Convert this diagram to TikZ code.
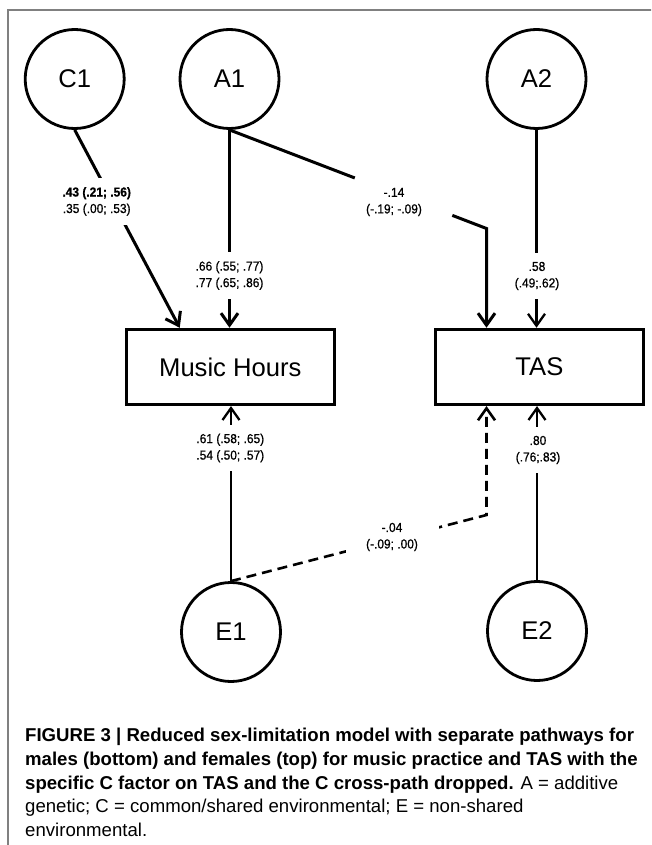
\documentclass[tikz,border=0pt]{standalone}
\usepackage{fontspec}
\setmainfont{Liberation Sans}
\newfontfamily\labfont[FakeStretch=0.92,FakeBold=0.8]{Liberation Sans}
\usetikzlibrary{arrows.meta,calc}
\begin{document}
\begin{tikzpicture}[x=1pt,y=-1pt,
  latent/.style={circle, draw, line width=2.8pt, minimum size=99pt, inner sep=0pt, font=\fontsize{25.6}{30}\selectfont},
  obs/.style={rectangle, draw, line width=3pt, minimum width=208.6pt, minimum height=75.3pt, inner sep=0pt, font=\fontsize{25.6}{30}\selectfont},
  lab/.style={fill=white, align=center, inner xsep=3pt, inner ysep=9pt, font=\labfont\fontsize{13}{16.5}\selectfont},
  thickpath/.style={line width=3pt},
  thinpath/.style={line width=2.3pt},
  dashpath/.style={line width=2.6pt, dash pattern=on 10pt off 6pt},
  arr/.style={-{Straight Barb[length=12pt,width=17pt]}},
  capt/.style={inner sep=0pt, anchor=base west, font=\fontsize{18.6}{22}\selectfont},
  frame/.style={draw=black!50, line width=1.5pt}
]
\useasboundingbox (0,0) rectangle (651,845);
\clip (0,0) rectangle (651,845);
\draw[frame] (8,10) rectangle (700,900);

% latent variables
\node[latent] (C1) at (74.7,79) {C1};
\node[latent] (A1) at (229.5,79) {A1};
\node[latent] (A2) at (536.5,79) {A2};
\node[latent] (E1) at (231,632) {E1};
\node[latent] (E2) at (537,631) {E2};

% observed variables
\node[obs] (MH) at (230.3,366.9) {Music Hours};
\node[obs] (TAS) at (539.4,366.9) {TAS};

% connectors
\coordinate (mhC) at ($(MH.north west)!0.261!(MH.north east)$);
\draw[thickpath,arr] (C1.south) -- (mhC);
\draw[thickpath,arr] (A1.south) -- (A1.south |- MH.north);
\coordinate (k1) at (486.5,228.5);
\draw[thickpath] (A1.south) -- ($(A1.south)!0.4875!(k1)$);
\draw[thickpath,arr] ($(A1.south)!0.867!(k1)$) -- (k1) -- (k1 |- TAS.north);
\draw[thinpath,arr] (A2.south) -- (A2.south |- TAS.north);
\draw[thinpath,arr] (E1.north) -- (E1.north |- MH.south);
\draw[thinpath,arr] (E2.north) -- (E2.north |- TAS.south);
\coordinate (k2) at (486.5,515);
\draw[dashpath,arr] (E1.north) -- (k2) -- (k2 |- TAS.south);

% path labels
\node[lab] (lC1) at (96.7,201.4) {\textbf{.43 (.21; .56)}\\.35 (.00; .53)};
\node[lab] (lA1) at (229.5,275.5) {.66 (.55; .77)\\.77 (.65; .86)};
\node[align=center, inner sep=0pt, font=\labfont\fontsize{13}{16.5}\selectfont] (lX1) at (394,202) {-.14\\(-.19; -.09)};
\node[lab] (lA2) at (537,276) {.58\\(.49;.62)};
\node[lab] (lE1) at (230.3,448) {.61 (.58; .65)\\.54 (.50; .57)};
\node[lab] (lE2) at (538,450) {.80\\(.76;.83)};
\node[lab, minimum width=93pt, minimum height=40pt] (lX2) at (392,537) {-.04\\(-.09; .00)};

% caption
\node[capt] (cap1) at (25,741.7) {\bfseries FIGURE 3 | Reduced sex-limitation model with separate pathways for};
\node[capt] (cap2) at (25,765.4) {\bfseries males (bottom) and females (top) for music practice and TAS with the};
\node[capt] (cap3) at (25,789) {\textbf{specific C factor on TAS and the C cross-path dropped.} A = additive};
\node[capt] (cap4) at (25,812.6) {genetic; C = common/shared environmental; E = non-shared};
\node[capt] (cap5) at (25,836.3) {environmental.};
\end{tikzpicture}
\end{document}
